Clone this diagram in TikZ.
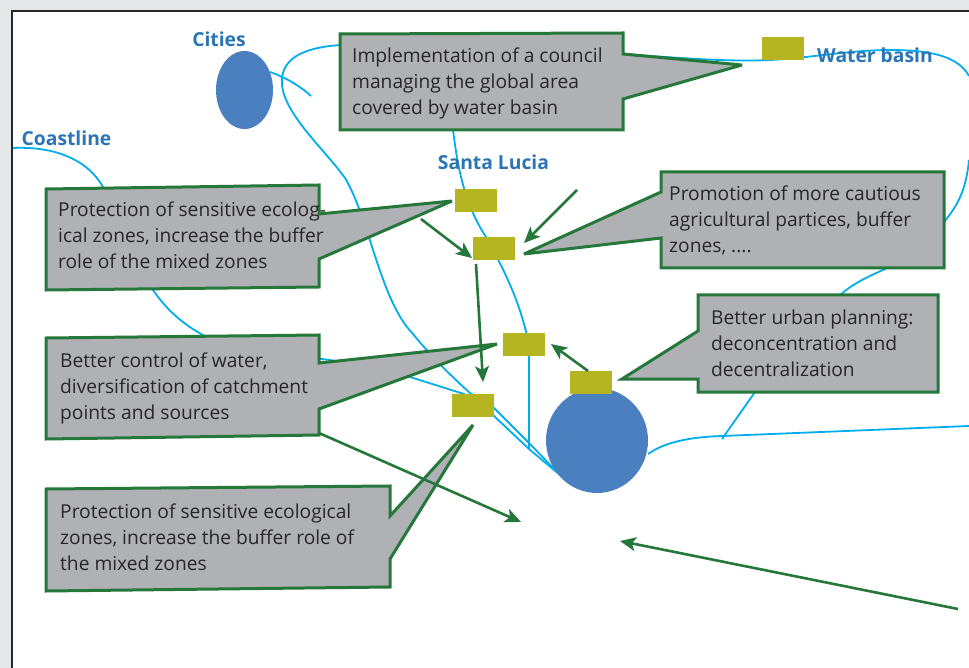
\documentclass[tikz,border=0pt]{standalone}
\usepackage{fontspec}
\setmainfont{Open Sans}
\usepackage{xcolor}
\usepackage{tikz}
\usetikzlibrary{positioning,shapes,calc}
\usetikzlibrary{arrows.meta}
\definecolor{river}{RGB}{0, 174, 239}
\definecolor{leaf}{RGB}{37, 120, 58}
\definecolor{panel}{RGB}{176, 177, 181}
\definecolor{olive}{RGB}{181, 181, 34}
\definecolor{city}{RGB}{74, 128, 192}
\definecolor{labelblue}{RGB}{43, 117, 181}
\definecolor{ink}{RGB}{40, 38, 40}
\definecolor{sheet}{RGB}{230, 231, 232}

\begin{document}
\begin{tikzpicture}[x=1pt,y=-1pt,
	riverline/.style={draw=river,line width=1.8pt},
	callout/.style={draw=leaf,fill=panel,line width=3pt,miter limit=5},
	calltext/.style={anchor=north west,align=left,text=ink,font=\fontsize{19.2}{26}\selectfont,inner sep=0pt},
	marker/.style={rectangle,fill=olive,minimum width=42pt,minimum height=23pt,inner sep=0pt},
	place/.style={text=labelblue,font=\fontsize{19.3}{22}\selectfont\bfseries,inner sep=0pt},
	cityspot/.style={ellipse,fill=city,inner sep=0pt},
	flow/.style={-{Stealth[length=16pt,width=14pt,inset=4pt]},draw=leaf,line width=2.6pt}]
	\useasboundingbox (0,0) rectangle (969,668);
	\fill[sheet] (0,0) rectangle (969,668);
	\fill[white] (11,10) rectangle (969,668);
	\draw[draw=black!85,line width=2.5pt] (12,668) -- (12,11) -- (969,11);

	% rivers
	\draw[riverline] (13,148) .. controls (55,146) and (88,160) .. (103,187) .. controls (120,225) and (135,270) .. (153,290) .. controls (170,315) and (190,328) .. (203,335) .. controls (280,360) and (360,358) .. (410,377) -- (464,394) -- (494,416) -- (529,449) -- (560,475);
	\draw[riverline] (340,45) .. controls (300,48) and (280,60) .. (282,85) .. controls (285,115) and (325,150) .. (345,178) .. controls (370,220) and (380,300) .. (413,334) .. controls (430,355) and (450,375) .. (470,393) -- (494,408) -- (528,442) -- (560,475);
	\draw[riverline] (270,72) .. controls (285,77) and (300,86) .. (311,96);
	\draw[riverline] (453,130) .. controls (458,170) and (465,205) .. (486,237) .. controls (510,280) and (522,310) .. (529,345) -- (529,449);
	\draw[riverline] (622,54) .. controls (680,58) and (730,62) .. (770,60) .. controls (810,58) and (850,50) .. (890,50) .. controls (930,50) and (958,56) .. (969,76);
	\draw[riverline] (969,160) .. controls (966,190) and (958,205) .. (944,222);
	\draw[riverline] (887,268) .. controls (870,276) and (855,282) .. (840,295);
	\draw[riverline] (755,392) -- (722,439);
	\draw[riverline] (648,454) .. controls (665,442) and (690,437) .. (722,436) -- (969,426);

	\node[cityspot,minimum width=57pt,minimum height=78pt] (citytop) at (244.5,90) {};
	\node[cityspot,minimum width=102pt,minimum height=105pt] (citymain) at (597,440.5) {};

	\node[place] (cities) at (219,39) {Cities};
	\node[place] (coast) at (66.5,138) {Coastline};
	\node[place] (lucia) at (493.5,162) {Santa Lucia};
	\node[place] (basin) at (875,55) {Water basin};

	\node[marker] (markbasin) at (783,48.5) {};
	\node[marker] (marktop) at (476,200.5) {};
	\node[marker] (markfarm) at (494,248.5) {};
	\node[marker] (markwater) at (524,344.5) {};
	\node[marker] (markurban) at (591,382.5) {};
	\node[marker] (marklow) at (473,405.5) {};

	% callouts
	\draw[callout] (340,34) -- (623,33) -- (623,54) -- (742,65) -- (623,99) -- (623,130) -- (340,130) -- cycle;
	\draw[callout] (46,189) -- (319,185) -- (319,214) -- (452,201) -- (319,259) -- (319,287) -- (46,290) -- cycle;
	\draw[callout] (661,172) -- (944,172) -- (944,268) -- (661,268) -- (661,238) -- (524,254) -- (661,192) -- cycle;
	\draw[callout] (698,295) -- (938,295) -- (938,392) -- (698,392) -- (698,379) -- (622,379) -- (698,331) -- cycle;
	\draw[callout] (46,338) -- (319,335) -- (319,363) -- (497,344) -- (319,409) -- (319,435) -- (46,439) -- cycle;
	\draw[callout] (46,489) -- (390,486) -- (390,516) -- (473,425) -- (390,559) -- (390,587) -- (46,591) -- cycle;

	\node[calltext] (council) at (352,47.5) {Implementation of a council\\managing the global area\\covered by water basin};
	\node[calltext] (ecotop) at (58,202) {Protection of sensitive ecolog-\\ical zones, increase the buffer\\role of the mixed zones};
	\node[calltext] (farm) at (669,185.5) {Promotion of more cautious\\agricultural partices, buffer\\zones, ....};
	\node[calltext] (urban) at (711,309.5) {Better urban planning:\\deconcentration and\\decentralization};
	\node[calltext] (control) at (60,352.5) {Better control of water,\\diversification of catchment\\points and sources};
	\node[calltext] (ecolow) at (60,503.5) {Protection of sensitive ecological\\zones, increase the buffer role of\\the mixed zones};

	\coordinate (flowa) at (421,219);
	\coordinate (flowb) at (472,258);
	\coordinate (flowc) at (577,190);
	\coordinate (flowd) at (524,243);
	\coordinate (flowe) at (476,264);
	\coordinate (flowf) at (483,382);
	\coordinate (flowg) at (588,371);
	\coordinate (flowh) at (551,344);
	\coordinate (flowi) at (319,433);
	\coordinate (flowj) at (521,522);
	\coordinate (flowk) at (958,609);
	\coordinate (flowl) at (620,541);

	\draw[flow] (flowa) -- (flowb);
	\draw[flow] (flowc) -- (flowd);
	\draw[flow] (flowe) -- (flowf);
	\draw[flow] (flowg) -- (flowh);
	\draw[flow] (flowi) -- (flowj);
	\draw[flow] (flowk) -- (flowl);
\end{tikzpicture}
\end{document}
